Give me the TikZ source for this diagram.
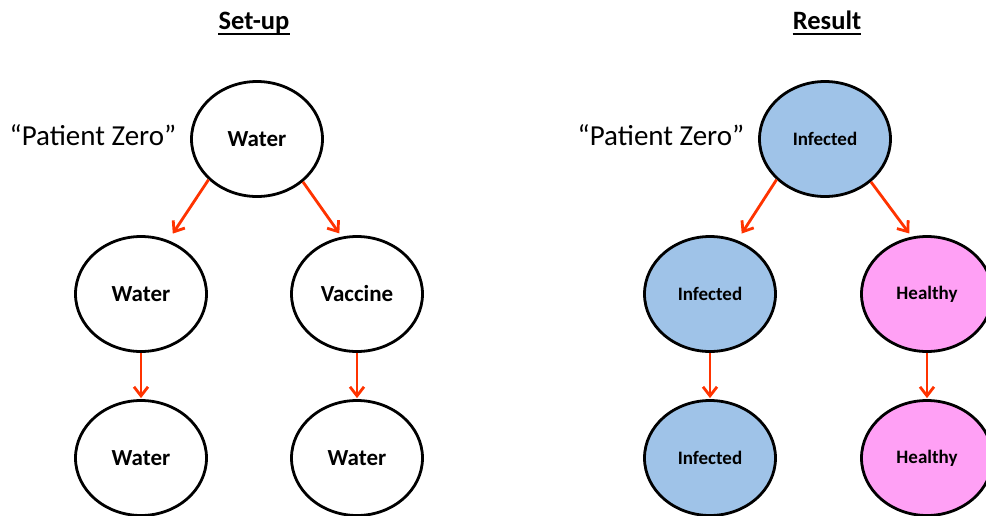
\documentclass[tikz,border=0pt]{standalone}
\usepackage{fontspec}
\setmainfont{Carlito}
\usetikzlibrary{shapes.geometric,arrows.meta}
\definecolor{infblue}{HTML}{9FC3E8}
\definecolor{healpink}{HTML}{FFA0F5}
\definecolor{arrred}{HTML}{FF3300}
\tikzset{
  cell/.style={ellipse,draw=black,line width=2.8pt,minimum width=131pt,minimum height=115pt,inner sep=0pt,font=\fontsize{23}{26}\selectfont\bfseries},
  inf/.style={cell,fill=infblue,font=\fontsize{19}{22}\selectfont\bfseries},
  heal/.style={cell,fill=healpink,font=\fontsize{19}{22}\selectfont\bfseries},
  arr/.style={draw=arrred,line width=2.8pt,-{Straight Barb[length=9pt,width=14pt,line width=2.8pt]}},
  title/.style={inner sep=0pt,anchor=base,font=\fontsize{26.5}{30}\selectfont\bfseries},
  label/.style={inner sep=0pt,font=\fontsize{29}{33}\selectfont},
  uline/.style={line width=2.8pt}
}
\begin{document}
\begin{tikzpicture}[x=1pt,y=-1pt]
\useasboundingbox (0,0) rectangle (986,515);
% titles
\node[title] (ts) at (254,29.5) {Set-up};
\node[title] (tr) at (827,29.5) {Result};
\draw[uline] ([yshift=-4.5pt]ts.base west) -- ([yshift=-4.5pt]ts.base east);
\draw[uline] ([yshift=-4.5pt]tr.base west) -- ([yshift=-4.5pt]tr.base east);
% patient zero labels
\node[label] (pz1) at (93,135) {“Patient Zero”};
\node[label] (pz2) at (661,135) {“Patient Zero”};
% set-up tree
\node[cell] (a) at (257,139) {Water};
\node[cell] (b) at (141,294) {Water};
\node[cell] (c) at (357,294) {Vaccine};
\node[cell] (d) at (141,458) {Water};
\node[cell] (e) at (357,458) {Water};
% result tree
\node[inf] (f) at (825,139) {Infected};
\node[inf] (g) at (710,294) {Infected};
\node[heal] (h) at (927,294) {Healthy};
\node[inf] (i) at (710,458) {Infected};
\node[heal] (j) at (927,458) {Healthy};
% arrows
\draw[arr,shorten >=8pt] (a.220) -- (b.63);
\draw[arr,shorten >=4pt] (a.317) -- (c.105);
\draw[arr,shorten >=1pt] (b.south) -- (d.north);
\draw[arr,shorten >=1pt] (c.south) -- (e.north);
\draw[arr,shorten >=8pt] (f.220) -- (g.63);
\draw[arr,shorten >=4pt] (f.317) -- (h.105);
\draw[arr,shorten >=1pt] (g.south) -- (i.north);
\draw[arr,shorten >=1pt] (h.south) -- (j.north);
\end{tikzpicture}
\end{document}
